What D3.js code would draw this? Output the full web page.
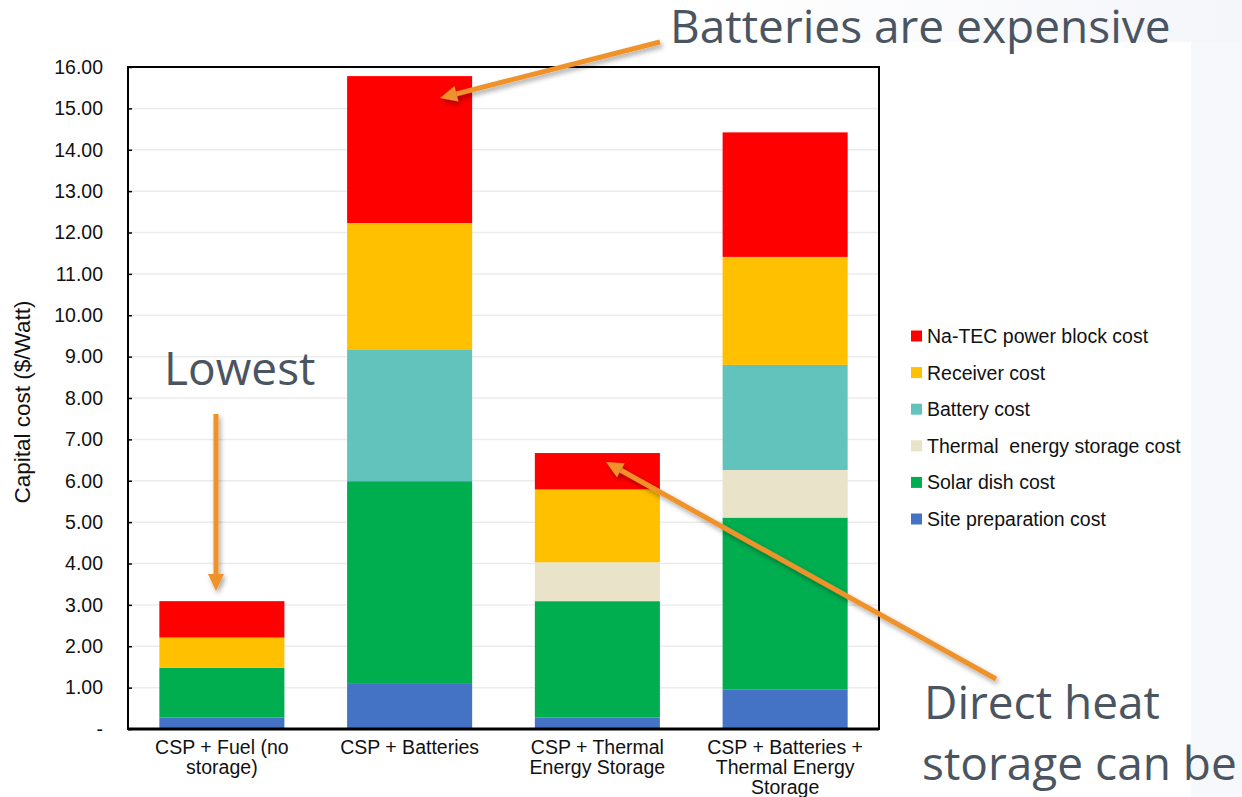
<!DOCTYPE html>
<html>
<head>
<meta charset="utf-8">
<script src="https://cdn.jsdelivr.net/npm/d3@7"></script>
<style>
  html, body { margin: 0; padding: 0; background: #ffffff; }
  svg { display: block; }
</style>
</head>
<body>
<svg id="chart" width="1242" height="797"></svg>
<script>
// Capital cost per configuration ($/Watt), stacked bottom to top
const categories = [
  "CSP + Fuel (no storage)",
  "CSP + Batteries",
  "CSP + Thermal Energy Storage",
  "CSP + Batteries + Thermal Energy Storage"
];
const categoryLines = [
  ["CSP + Fuel (no", "storage)"],
  ["CSP + Batteries"],
  ["CSP + Thermal", "Energy Storage"],
  ["CSP + Batteries +", "Thermal Energy", "Storage"]
];
const sitePreparation = [0.28, 1.09, 0.28, 0.96];
const solarDish       = [1.20, 4.90, 2.81, 4.15];
const thermalStorage  = [0.00, 0.00, 0.94, 1.15];
const battery         = [0.00, 3.17, 0.00, 2.54];
const receiver        = [0.73, 3.07, 1.76, 2.61];
const naTecBlock      = [0.88, 3.55, 0.88, 3.01];

const seriesNames = [
  "Site preparation cost",
  "Solar dish cost",
  "Thermal  energy storage cost",
  "Battery cost",
  "Receiver cost",
  "Na-TEC power block cost"
];
const seriesColors = ["#4472c4", "#00ad4f", "#e8e3c9", "#62c3bc", "#ffc000", "#ff0000"];
const yTicks = [0, 1, 2, 3, 4, 5, 6, 7, 8, 9, 10, 11, 12, 13, 14, 15, 16];

const seriesValues = [sitePreparation, solarDish, thermalStorage, battery, receiver, naTecBlock];
const keys = seriesNames.map((_, i) => "s" + i);
const rows = categories.map((c, ci) => {
  const r = { category: c };
  keys.forEach((k, si) => r[k] = seriesValues[si][ci]);
  return r;
});

const svg = d3.select("#chart");
const W = 1242, H = 797;

// slide backdrop: faint tint on the right edge and top strip
const defs = svg.append("defs");
const grad = defs.append("linearGradient").attr("id", "topTint")
  .attr("x1", "0").attr("x2", "1").attr("y1", "0").attr("y2", "0");
grad.append("stop").attr("offset", "0").attr("stop-color", "#ffffff");
grad.append("stop").attr("offset", "0.55").attr("stop-color", "#ffffff");
grad.append("stop").attr("offset", "1").attr("stop-color", "#f5f6fa");
svg.append("rect").attr("width", W).attr("height", H).attr("fill", "#f7f8fb");
svg.append("rect").attr("width", W).attr("height", 42).attr("fill", "url(#topTint)");
svg.append("rect").attr("x", 0).attr("y", 42).attr("width", 1191).attr("height", H - 42).attr("fill", "#ffffff");

const shadow = defs.append("filter").attr("id", "arrowShadow")
  .attr("x", "-20%").attr("y", "-20%").attr("width", "140%").attr("height", "140%");
shadow.append("feDropShadow").attr("dx", 2).attr("dy", 3).attr("stdDeviation", 2.5)
  .attr("flood-color", "#000").attr("flood-opacity", 0.35);

const plot = { left: 128, right: 879, top: 67, bottom: 729 };

const x = d3.scaleBand().domain(categories)
  .range([plot.left, plot.right]).paddingInner(0.334).paddingOuter(0.167);
const y = d3.scaleLinear().domain([0, 16]).range([plot.bottom, plot.top]);

const font = "'Liberation Sans', Arial, Helvetica, sans-serif";

// gridlines
svg.append("g").selectAll("line").data(yTicks.filter(t => t > 0 && t < 16)).join("line")
  .attr("x1", plot.left).attr("x2", plot.right)
  .attr("y1", d => y(d)).attr("y2", d => y(d))
  .attr("stroke", "#ececec").attr("stroke-width", 1.5);

// stacked bars
const stacked = d3.stack().keys(keys)(rows);
svg.append("g").selectAll("g").data(stacked).join("g")
  .attr("fill", (d, i) => seriesColors[i])
  .selectAll("rect").data(d => d.filter(p => p[1] - p[0] > 0)).join("rect")
  .attr("x", d => x(d.data.category))
  .attr("width", x.bandwidth())
  .attr("y", d => y(d[1]))
  .attr("height", d => y(d[0]) - y(d[1]));

// frame
svg.append("rect")
  .attr("x", plot.left).attr("y", plot.top)
  .attr("width", plot.right - plot.left).attr("height", plot.bottom - plot.top)
  .attr("fill", "none").attr("stroke", "#000").attr("stroke-width", 2);
svg.append("line")
  .attr("x1", plot.left).attr("x2", plot.right)
  .attr("y1", plot.bottom).attr("y2", plot.bottom)
  .attr("stroke", "#000").attr("stroke-width", 3);

// y axis
const yAxis = d3.axisLeft(y).tickValues(yTicks)
  .tickFormat(d => d === 0 ? "-" : d3.format(".2f")(d))
  .tickSizeInner(-4).tickSizeOuter(0).tickPadding(25);
const yg = svg.append("g").attr("transform", `translate(${plot.left},0)`).call(yAxis);
yg.select(".domain").remove();
yg.selectAll(".tick line").attr("stroke", "#000").attr("stroke-width", 1.5);
yg.selectAll(".tick text").attr("font-family", font).attr("font-size", 19.5).attr("fill", "#111");

svg.append("text")
  .attr("transform", `translate(30,${(plot.top + plot.bottom) / 2 + 4}) rotate(-90)`)
  .attr("text-anchor", "middle")
  .attr("font-family", font).attr("font-size", 22.5).attr("fill", "#111")
  .text("Capital cost ($/Watt)");

// x labels
const xl = svg.append("g").selectAll("text").data(categories).join("text")
  .attr("text-anchor", "middle")
  .attr("font-family", font).attr("font-size", 19.5).attr("fill", "#111")
  .attr("x", d => x(d) + x.bandwidth() / 2)
  .attr("y", plot.bottom + 25);
xl.each(function (d, i) {
  d3.select(this).selectAll("tspan").data(categoryLines[i]).join("tspan")
    .attr("x", x(d) + x.bandwidth() / 2)
    .attr("dy", (t, j) => j === 0 ? 0 : 20)
    .text(t => t);
});

// legend (top entry is the top of the stack)
const legendOrder = d3.range(seriesNames.length).reverse();
const lg = svg.append("g").selectAll("g").data(legendOrder).join("g")
  .attr("transform", (d, i) => `translate(911,${336 + i * 36.6})`);
lg.append("rect").attr("x", 0).attr("y", -5.5).attr("width", 11).attr("height", 11)
  .attr("fill", d => seriesColors[d]);
lg.append("text").attr("x", 16).attr("y", 7)
  .attr("font-family", font).attr("font-size", 19.5).attr("fill", "#111")
  .style("white-space", "pre")
  .text(d => seriesNames[d]);

// callouts
const callFont = "'Open Sans', 'Noto Sans', sans-serif";
const callColor = "#4a5561";
const arrowColor = "#f0922b";

function arrow(x1, y1, x2, y2) {
  const ang = Math.atan2(y2 - y1, x2 - x1);
  const headLen = 17, headW = 8;
  const bx = x2 - headLen * Math.cos(ang), by = y2 - headLen * Math.sin(ang);
  const g = svg.append("g").attr("filter", "url(#arrowShadow)");
  g.append("line").attr("x1", x1).attr("y1", y1).attr("x2", bx).attr("y2", by)
    .attr("stroke", arrowColor).attr("stroke-width", 5);
  const px = -Math.sin(ang) * headW, py = Math.cos(ang) * headW;
  g.append("path")
    .attr("d", `M${x2},${y2}L${bx + px},${by + py}L${bx - px},${by - py}Z`)
    .attr("fill", arrowColor);
}

arrow(660, 42, 440, 98);
arrow(216, 414, 216, 591);
arrow(996, 679, 606, 462);

const callouts = [
  { text: "Batteries are expensive", x: 670, y: 43 },
  { text: "Lowest", x: 164, y: 385 },
  { text: "Direct heat", x: 924, y: 719 },
  { text: "storage can be", x: 922, y: 780 }
];
svg.append("g").selectAll("text").data(callouts).join("text")
  .attr("x", d => d.x).attr("y", d => d.y)
  .attr("font-family", callFont).attr("font-size", 46).attr("fill", callColor)
  .text(d => d.text);
</script>
</body>
</html>
